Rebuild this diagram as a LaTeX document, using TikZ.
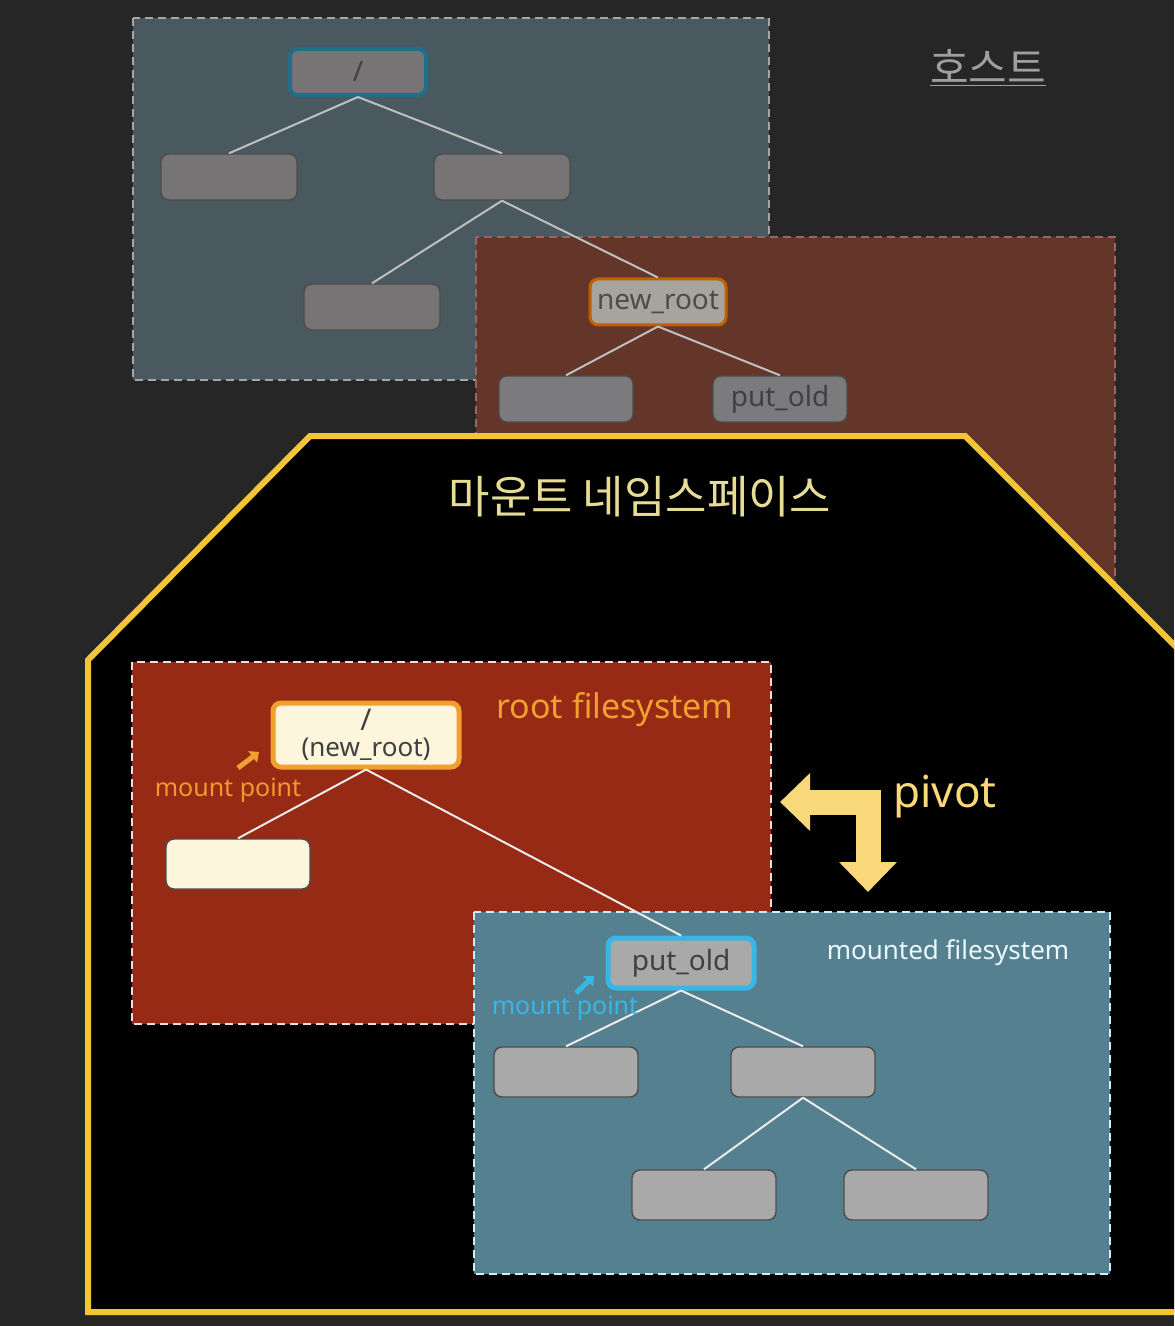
\documentclass[tikz,border=0pt]{standalone}
\usepackage{fontspec}
\setmainfont{Noto Sans}
\newfontfamily\kofont{Noto Sans CJK KR}
\usetikzlibrary{arrows.meta}

\definecolor{bgdark}{HTML}{262626}
\definecolor{hostfill}{HTML}{4A5960}
\definecolor{oldfill}{HTML}{64362A}
\definecolor{rootfill}{HTML}{962A14}
\definecolor{mntfill}{HTML}{55808F}
\definecolor{nsyellow}{HTML}{F2C436}
\definecolor{titleyel}{HTML}{E6DC96}
\definecolor{pivotyel}{HTML}{F8D878}
\definecolor{fsorange}{HTML}{F0A030}
\definecolor{mpcyan}{HTML}{38B6E6}
\definecolor{cream}{HTML}{FDF5DC}
\definecolor{dimgray}{HTML}{767474}
\definecolor{midgray}{HTML}{7B7B7D}
\definecolor{lightgray}{HTML}{A9A9A9}
\definecolor{newrootgray}{HTML}{A6A49C}

\begin{document}
\begin{tikzpicture}[
  x=0.5pt, y=-0.5pt, >=Latex,
  fsbox/.style={dash pattern=on 4pt off 2.5pt, line width=1pt},
  dir/.style={draw=black!70, rounded corners=4pt, inner sep=0pt,
              minimum width=68pt, minimum height=23pt, line width=0.7pt,
              text=black!75, font=\fontsize{14}{16}\selectfont},
  hostdir/.style={dir, fill=dimgray},
  bigdir/.style={dir, minimum width=72pt, minimum height=25pt},
  oldline/.style={draw=black!25, line width=1pt},
  newline/.style={draw=white!92!black, line width=1pt},
  mplabel/.style={font=\fontsize{12.5}{14}\selectfont},
  mparrow/.style={line width=2.5pt, -{Triangle[width=7pt,length=4pt]}},
  pivarrow/.style={draw=pivotyel, line width=12.5pt, line join=miter,
                   {Triangle[width=28pt,length=15pt]}-{Triangle[width=28pt,length=15pt]}}
]
  \useasboundingbox (0,0) rectangle (1174,1326);
  \fill[bgdark] (0,0) rectangle (1174,1326);
  \clip (0,0) rectangle (1174,1326);

  % host
  \path[fsbox, fill=hostfill, draw=gray!70] (133,18) rectangle (769,380);
  \node[font=\kofont\fontsize{21}{24}\selectfont, text=gray!75] (host) at (988,68) {\underline{호스트}};
  \node[hostdir, draw=mpcyan!60!black, line width=2pt] (hroot) at (358,72) {/};
  \node[hostdir] (ha) at (229,177) {};
  \node[hostdir] (hb) at (502,177) {};
  \node[hostdir] (hc) at (372,307) {};

  \path[fsbox, fill=oldfill, draw=gray!80!red] (476,237) rectangle (1115,620);
  \node[hostdir, fill=newrootgray, draw=orange!75!black, line width=1.5pt,
        text=black!70] (hnew) at (658,302) {new\_root};
  \node[hostdir, minimum width=67pt, fill=midgray] (hd) at (566,399) {};
  \node[hostdir, minimum width=67pt, fill=midgray] (hput) at (780,399) {put\_old};

  \draw[oldline] (hroot.south) -- (ha.north);
  \draw[oldline] (hroot.south) -- (hb.north);
  \draw[oldline] (hb.south) -- (hc.north);
  \draw[oldline] (hb.south) -- (hnew.north);
  \draw[oldline] (hnew.south) -- (hd.north);
  \draw[oldline] (hnew.south) -- (hput.north);

  % mount namespace
  \draw[fill=black, draw=nsyellow, line width=3pt, line join=miter]
    (88,1312) -- (88,660) -- (310,436) -- (965,436) -- (1215,686) -- (1215,1312) -- cycle;
  \node[font=\kofont\fontsize{22.5}{26}\selectfont, text=titleyel] (title) at (640,497) {마운트 네임스페이스};

  \path[fsbox, fill=rootfill, draw=white!85!red] (132,662) rectangle (771,1024);
  \node[font=\fontsize{17}{20}\selectfont, text=fsorange] (rootfs) at (615,710) {root filesystem};
  \node[dir, fill=cream, draw=fsorange, line width=2.5pt, minimum width=93pt, minimum height=32pt,
        align=center, font=\fontsize{13}{13}\selectfont] (root) at (366,735)
        {{\fontsize{15}{13}\selectfont\textbf{/}}\\(new\_root)};
  \node[bigdir, fill=cream] (rchild) at (238,864) {};
  \node[mplabel, text=fsorange!95!red] (mp1) at (228,790) {mount point};
  \coordinate (mp1a) at (238,768);
  \coordinate (mp1b) at (259,752);
  \draw[mparrow, draw=fsorange, fill=fsorange] (mp1a) -- (mp1b);

  \path[fsbox, fill=mntfill, draw=white!80!cyan] (474,912) rectangle (1110,1274);
  \node[font=\fontsize{13}{15}\selectfont, text=white!92!cyan] (mntfs) at (948,953) {mounted filesystem};
  \node[bigdir, fill=lightgray, draw=mpcyan, line width=2.5pt, minimum width=73pt] (put) at (681,963) {put\_old};
  \node[bigdir, fill=lightgray] (ma) at (566,1072) {};
  \node[bigdir, fill=lightgray] (mb) at (803,1072) {};
  \node[bigdir, fill=lightgray] (mc) at (704,1195) {};
  \node[bigdir, fill=lightgray] (md) at (916,1195) {};

  \draw[newline] (root.south) -- (rchild.north);
  \draw[newline] (root.south) -- (put.north);
  \draw[newline] (put.south) -- (ma.north);
  \draw[newline] (put.south) -- (mb.north);
  \draw[newline] (mb.south) -- (mc.north);
  \draw[newline] (mb.south) -- (md.north);

  \node[mplabel, text=mpcyan] (mp2) at (565,1008) {mount point};
  \coordinate (mp2a) at (576,993);
  \coordinate (mp2b) at (594,976);
  \draw[mparrow, draw=mpcyan, fill=mpcyan] (mp2a) -- (mp2b);

  % pivot
  \coordinate (pivl) at (780,802);
  \coordinate (pivd) at (868,892);
  \draw[pivarrow] (pivl) -| (pivd);
  \node[font=\fontsize{22}{26}\selectfont, text=pivotyel] (pivot) at (945,797) {pivot};
\end{tikzpicture}
\end{document}
